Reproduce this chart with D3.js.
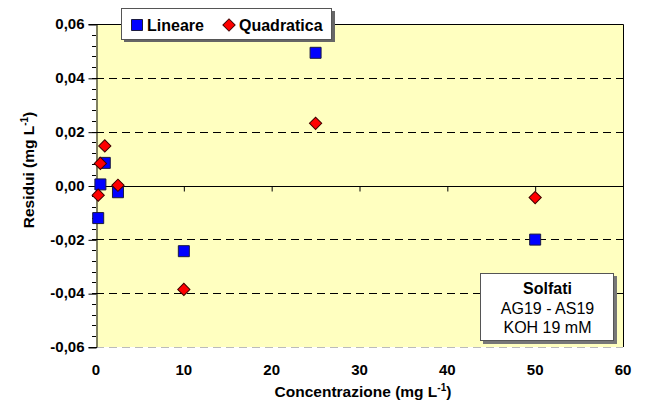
<!DOCTYPE html>
<html>
<head>
<meta charset="utf-8">
<script src="https://cdn.jsdelivr.net/npm/d3@7"></script>
<style>
  html, body { margin: 0; padding: 0; background: #fff; }
  svg { display: block; }
  svg text { font-family: "Liberation Sans", Arial, sans-serif; }
</style>
</head>
<body>
<svg id="chart" width="649" height="401"></svg>
<script>
// Concentrations (mg/L) and residuals of the two calibration fits
const concentrations = [0.25, 0.5, 1, 2.5, 10, 25, 50];
const residuiLineare = [-0.0121, 0.0004, 0.0084, -0.0025, -0.0244, 0.0493, -0.0201];
const residuiQuadratica = [-0.0036, 0.0082, 0.0147, 0.0001, -0.0386, 0.0231, -0.0045];
const xTicks = [0, 10, 20, 30, 40, 50, 60];
const yTicks = [-0.06, -0.04, -0.02, 0, 0.02, 0.04, 0.06];
const seriesNames = ["Lineare", "Quadratica"];
const noteLines = ["Solfati", "AG19 - AS19", "KOH 19 mM"];

const svg = d3.select("#chart");
const plot = { left: 96, right: 623, top: 24, bottom: 347 };

const x = d3.scaleLinear().domain([0, 60]).range([plot.left, plot.right]);
const y = d3.scaleLinear().domain([-0.06, 0.06]).range([plot.bottom, plot.top]);
const fmt = v => d3.format(".2f")(v).replace(".", ",").replace("−", "-");
const FONT = "Liberation Sans, Arial, sans-serif";

// plot area
svg.append("rect")
  .attr("x", plot.left).attr("y", plot.top)
  .attr("width", plot.right - plot.left).attr("height", plot.bottom - plot.top)
  .attr("fill", "#FFFFC0");

// dashed gridlines
svg.append("g").selectAll("line")
  .data(yTicks.filter(t => t !== 0 && t !== 0.06))
  .join("line")
  .attr("x1", plot.left).attr("x2", plot.right)
  .attr("y1", d => Math.round(y(d)) + 0.5).attr("y2", d => Math.round(y(d)) + 0.5)
  .attr("stroke", d => d === -0.06 ? "#bbb" : "#000")
  .attr("stroke-width", 1)
  .attr("stroke-dasharray", "8,5");

// top and right frame
svg.append("path")
  .attr("d", `M${plot.left},${plot.top + 0.5}H${plot.right + 0.5}V${plot.bottom}`)
  .attr("fill", "none").attr("stroke", "#000").attr("stroke-width", 1);

// y axis with minor ticks
const yMinor = d3.range(-0.06, 0.0601, 0.004);
svg.append("g").selectAll("line")
  .data(yMinor)
  .join("line")
  .attr("x1", plot.left - 4).attr("x2", plot.left)
  .attr("y1", d => Math.round(y(d)) + 0.5).attr("y2", d => Math.round(y(d)) + 0.5)
  .attr("stroke", "#000");

const yAxis = d3.axisLeft(y).tickValues(yTicks).tickFormat(fmt).tickSize(8).tickPadding(4);
const gy = svg.append("g").attr("transform", `translate(${plot.left + 0.5},0)`).call(yAxis);
gy.attr("font-family", FONT);
gy.select(".domain").attr("stroke", "#000");
gy.selectAll(".tick line").attr("stroke", "#000").attr("transform", "translate(0,0.5)");
gy.selectAll("text").attr("font-size", 15).attr("font-weight", "bold")
  .attr("font-family", FONT).attr("fill", "#000");

// x axis line crossing at zero
const xAxis = d3.axisBottom(x).tickValues(xTicks).tickSize(5).tickFormat("");
const gx = svg.append("g").attr("transform", `translate(0,${Math.round(y(0)) + 0.5})`).call(xAxis);
gx.select(".domain").attr("stroke", "#000").attr("d", `M${plot.left},0H${plot.right + 0.5}`);
gx.selectAll(".tick line").attr("stroke", "#000");

// x tick labels at the bottom of the plot
svg.append("g").selectAll("text")
  .data(xTicks)
  .join("text")
  .attr("x", d => x(d)).attr("y", 375)
  .attr("text-anchor", "middle")
  .attr("font-size", 15).attr("font-weight", "bold")
  .text(d => d);

// axis titles
const xTitle = svg.append("text")
  .attr("x", 363).attr("y", 397)
  .attr("text-anchor", "middle")
  .attr("font-size", 15.5).attr("font-weight", "bold");
xTitle.append("tspan").text("Concentrazione (mg L");
xTitle.append("tspan").attr("dy", -6).attr("font-size", 10).text("-1");
xTitle.append("tspan").attr("dy", 6).text(")");

const yTitle = svg.append("text")
  .attr("transform", "translate(34,170) rotate(-90)")
  .attr("text-anchor", "middle")
  .attr("font-size", 15.5).attr("font-weight", "bold");
yTitle.append("tspan").text("Residui (mg L");
yTitle.append("tspan").attr("dy", -6).attr("font-size", 10).text("-1");
yTitle.append("tspan").attr("dy", 6).text(")");

// markers
const square = d3.symbol().type(d3.symbolSquare).size(121);
const diamond = d3.symbol().type(d3.symbolSquare).size(75);

svg.append("g").selectAll("path")
  .data(concentrations.map((c, i) => [c, residuiLineare[i]]))
  .join("path")
  .attr("d", square)
  .attr("transform", d => `translate(${x(d[0])},${y(d[1])})`)
  .attr("fill", "#0000FF").attr("stroke", "#1a1a40").attr("stroke-width", 1);

svg.append("g").selectAll("path")
  .data(concentrations.map((c, i) => [c, residuiQuadratica[i]]))
  .join("path")
  .attr("d", diamond)
  .attr("transform", d => `translate(${x(d[0])},${y(d[1])}) rotate(45)`)
  .attr("fill", "#FF0000").attr("stroke", "#400000").attr("stroke-width", 1);

// legend
const lg = svg.append("g");
lg.append("rect").attr("x", 124).attr("y", 11).attr("width", 211).attr("height", 31).attr("fill", "#666");
lg.append("rect").attr("x", 121.5).attr("y", 8.5).attr("width", 210).attr("height", 31)
  .attr("fill", "#fff").attr("stroke", "#555").attr("stroke-width", 1);
lg.append("path").attr("d", square).attr("transform", "translate(137,25)")
  .attr("fill", "#0000FF").attr("stroke", "#1a1a40");
lg.append("text").attr("x", 147).attr("y", 31).attr("font-size", 16).attr("font-weight", "bold").text(seriesNames[0]);
lg.append("path").attr("d", diamond).attr("transform", "translate(229,25) rotate(45)")
  .attr("fill", "#FF0000").attr("stroke", "#400000");
lg.append("text").attr("x", 239).attr("y", 31).attr("font-size", 16).attr("font-weight", "bold").text(seriesNames[1]);

// annotation box
const nb = svg.append("g");
nb.append("rect").attr("x", 483).attr("y", 276).attr("width", 134).attr("height", 68).attr("fill", "#777");
nb.append("rect").attr("x", 480.5).attr("y", 273.5).attr("width", 133).attr("height", 67)
  .attr("fill", "#fff").attr("stroke", "#555");
nb.selectAll("text")
  .data(noteLines)
  .join("text")
  .attr("x", 547.5).attr("y", (d, i) => 294 + i * 19.5)
  .attr("text-anchor", "middle")
  .attr("font-size", 16)
  .attr("font-weight", (d, i) => i === 0 ? "bold" : "normal")
  .text(d => d);
</script>
</body>
</html>
